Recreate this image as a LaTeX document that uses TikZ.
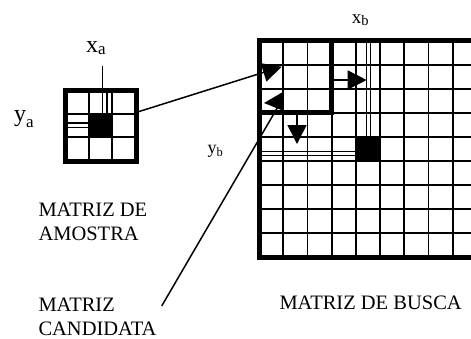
\documentclass[tikz,border=0pt]{standalone}
\usepackage{fontspec}
\setmainfont{Liberation Serif}
\usetikzlibrary{arrows.meta}
\begin{document}
\begin{tikzpicture}[x=1pt,y=-1pt,
  gridline/.style={line width=1.8pt},
  frame/.style={line width=5pt,line join=miter},
  link/.style={line width=1.5pt},
  bighead/.style={-{Triangle[length=19pt,width=19pt]}},
  caption/.style={anchor=base west,inner sep=0pt,font=\fontsize{20.5}{24}\selectfont},
  axis/.style={anchor=base west,inner sep=0pt}]
\useasboundingbox (0,0) rectangle (471,338);

% ---------- search matrix (9 rows, open to the right) ----------
\foreach \k in {1,...,8}
  \draw[gridline] ({259+24.2*\k},40.5) -- ({259+24.2*\k},257.3);
\foreach \k in {1,...,8}
  \draw[gridline] (259,{40.5+24.1*\k}) -- (471,{40.5+24.1*\k});
\fill (356.2,136.9) rectangle (380.4,161);
% double marker lines towards the centre pixel
\draw[gridline] (366.5,40.5) -- (366.5,136.9);
\draw[gridline] (370.5,40.5) -- (370.5,136.9);
\draw[gridline] (259,151.5) -- (356.2,151.5);
\draw[gridline] (259,155.5) -- (356.2,155.5);
\draw[frame] (471,40.5) -- (259,40.5) -- (259,257.3) -- (471,257.3);
% candidate window
\draw[frame] (259,40.5) rectangle (331.5,112.8);

% ---------- sample matrix (3x3) ----------
\draw[gridline] (88.7,90) -- (88.7,161);
\draw[gridline] (112.3,90) -- (112.3,161);
\draw[gridline] (65,113.7) -- (136,113.7);
\draw[gridline] (65,137.3) -- (136,137.3);
\fill (88.7,113.7) rectangle (112.3,137.3);
\draw[gridline] (107,90) -- (107,113.7);
\draw[gridline] (65,123) -- (88.7,123);
\draw[gridline] (65,127.5) -- (88.7,127.5);
\draw[frame] (65,90) rectangle (136,161);
\coordinate (xatop) at (102.5,66);
\coordinate (xabot) at (102.5,113.7);
\draw[gridline] (xatop) -- (xabot);

% ---------- labels ----------
\node[axis] (xa) at (86,52.7) {\fontsize{24}{24}\selectfont x\raisebox{-1.8pt}{\fontsize{17}{17}\selectfont a}};
\node[axis] (ya) at (14,121) {\fontsize{24}{24}\selectfont y\raisebox{-6pt}{\fontsize{17}{17}\selectfont a}};
\node[axis] (xb) at (351.7,23.3) {\fontsize{19}{19}\selectfont x\raisebox{-1.7pt}{\fontsize{14.5}{14.5}\selectfont b}};
\node[axis] (yb) at (207.3,153.5) {\fontsize{18}{18}\selectfont y\raisebox{-2.5pt}{\fontsize{12.5}{12.5}\selectfont b}};

\node[caption] (amo1) at (38.3,216.7) {MATRIZ DE};
\node[caption] (amo2) at (38.3,240) {AMOSTRA};
\node[caption] (can1) at (38.3,311.7) {MATRIZ};
\node[caption] (can2) at (38.3,335) {CANDIDATA};
\node[caption] (busca) at (279.3,309.3) {MATRIZ DE BUSCA};

% ---------- connectors ----------
\coordinate (smout) at (138.5,111.7);
\coordinate (tipA) at (281.7,66.7);
\draw[link,bighead] (smout) -- (tipA);

\coordinate (right0) at (331.5,80);
\coordinate (right1) at (366.7,80);
\draw[link,bighead] (right0) -- (right1);

\coordinate (down0) at (297,112.8);
\coordinate (down1) at (297,144);
\draw[link,bighead] (down0) -- (down1);

\coordinate (canfoot) at (161.7,306);
\coordinate (canend) at (281,101.5);
\draw[link] (canfoot) -- (canend);
\fill (264,103) -- (282,92.5) -- (282.5,110.5) -- cycle;
\end{tikzpicture}
\end{document}
